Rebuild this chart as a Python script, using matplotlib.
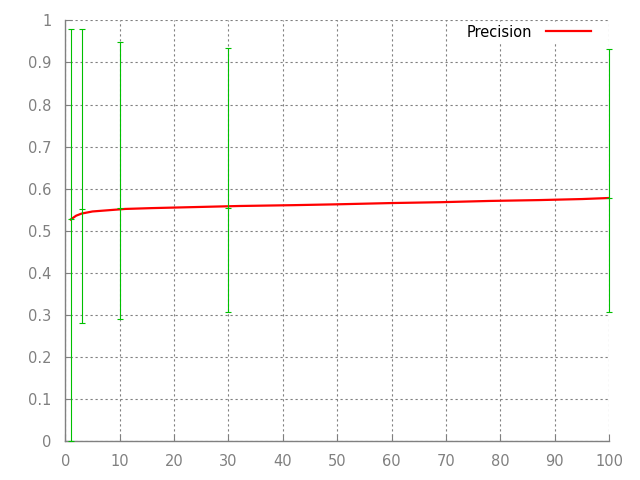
import numpy as np
import matplotlib
matplotlib.use("Agg")
import matplotlib.pyplot as plt

# precision curve
x_prec = [1, 2, 3, 5, 8, 11, 16, 24, 32, 42, 50, 60, 69, 78, 87, 95, 100]
y_prec = [0.527, 0.536, 0.541, 0.546, 0.549, 0.552, 0.554, 0.5565, 0.559,
          0.561, 0.563, 0.566, 0.568, 0.571, 0.573, 0.5755, 0.578]

# error bars: centre, low end, high end
err_x = [1, 3, 10, 30, 100]
err_mid = [0.527, 0.553, 0.554, 0.555, 0.577]
err_low = [0.0, 0.282, 0.291, 0.306, 0.306]
err_high = [0.979, 0.979, 0.949, 0.935, 0.932]

x_ticks = [0, 10, 20, 30, 40, 50, 60, 70, 80, 90, 100]
y_ticks = [0, 0.1, 0.2, 0.3, 0.4, 0.5, 0.6, 0.7, 0.8, 0.9, 1]
y_labels = ["0", "0.1", "0.2", "0.3", "0.4", "0.5", "0.6", "0.7", "0.8", "0.9", "1"]

gray = "#808080"
green = "#00c000"

fig = plt.figure(figsize=(6.4, 4.8), dpi=100)
ax = fig.add_axes([0.102, 0.0806, 0.850, 0.877])

ax.plot(x_prec, y_prec, color="red", lw=1.6, label="Precision", zorder=3)

mid = np.array(err_mid)
yerr = [mid - np.array(err_low), np.array(err_high) - mid]
eb = ax.errorbar(err_x, err_mid, yerr=yerr, fmt="_", color=green, ecolor=green,
                 elinewidth=0.8, capsize=2.2, capthick=0.8, markersize=4.6,
                 markeredgewidth=0.8, zorder=4)
for art in eb.get_children():
    art.set_clip_on(False)

ax.set_xlim(0, 100)
ax.set_ylim(0, 1)
ax.set_xticks(x_ticks)
ax.set_yticks(y_ticks)
ax.set_yticklabels(y_labels)

ax.grid(True, color=gray, linestyle=(0, (2, 2.5)), linewidth=0.8)
ax.set_axisbelow(True)

for side in ["top", "right"]:
    ax.spines[side].set_visible(False)
for side in ["left", "bottom"]:
    ax.spines[side].set_color(gray)
    ax.spines[side].set_linewidth(1.0)

ax.tick_params(direction="in", length=5, width=0.8, color=gray,
               labelcolor=gray, labelsize=10.5)
ax.tick_params(axis="y", pad=10)
ax.tick_params(axis="x", pad=9)

leg = ax.legend(loc="upper right", bbox_to_anchor=(0.9715, 0.997),
                borderaxespad=0, markerfirst=False, fontsize=10.5,
                frameon=True, fancybox=False, handlelength=3.1,
                handletextpad=0.9, borderpad=0.2)
leg.get_frame().set_facecolor("white")
leg.get_frame().set_edgecolor("none")
leg.get_frame().set_alpha(1.0)

fig.savefig("out.png", dpi=100)
